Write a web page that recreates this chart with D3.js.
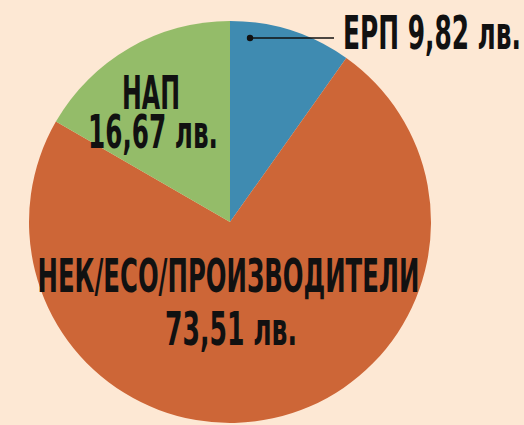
<!DOCTYPE html>
<html>
<head>
<meta charset="utf-8">
<script src="https://cdn.jsdelivr.net/npm/d3@7"></script>
<style>
  html, body { margin: 0; padding: 0; background: #fde8d4; }
  svg { display: block; }
</style>
</head>
<body>
<div id="chart"></div>
<script>
// Data
const categories = ["ЕРП", "НЕК/ЕСО/ПРОИЗВОДИТЕЛИ", "НАП"];
const values = [9.82, 73.51, 16.67];
const valueLabels = ["9,82 лв.", "73,51 лв.", "16,67 лв."];
const colors = ["#3f8bb1", "#cd6637", "#94bc69"];

const width = 524, height = 425;
const cx = 230, cy = 222, radius = 201;

const svg = d3.select("#chart")
  .append("svg")
  .attr("width", width)
  .attr("height", height);

svg.append("rect")
  .attr("width", width)
  .attr("height", height)
  .attr("fill", "#fde8d4");

const g = svg.append("g")
  .attr("transform", `translate(${cx},${cy})`);

const pie = d3.pie().sort(null).value(d => d);
const arcs = pie(values);
const arc = d3.arc().innerRadius(0).outerRadius(radius);

g.selectAll("path.slice")
  .data(arcs)
  .enter()
  .append("path")
  .attr("class", "slice")
  .attr("d", arc)
  .attr("fill", (d, i) => colors[i]);

const font = "'Liberation Sans Narrow', 'DejaVu Sans Condensed', sans-serif";

function label(x, y, text, len) {
  g.append("text")
    .attr("x", x)
    .attr("y", y)
    .attr("text-anchor", "middle")
    .attr("textLength", len)
    .attr("lengthAdjust", "spacingAndGlyphs")
    .style("font-family", font)
    .style("font-weight", "bold")
    .style("font-size", "46px")
    .style("fill", "#111")
    .text(text);
}

// ЕРП: callout line with dot
const dotX = 20, dotY = -184;
g.append("line")
  .attr("x1", dotX).attr("y1", dotY)
  .attr("x2", 104).attr("y2", dotY)
  .attr("stroke", "#111")
  .attr("stroke-width", 1.5);
g.append("circle")
  .attr("cx", dotX).attr("cy", dotY)
  .attr("r", 3.2)
  .attr("fill", "#111");
label(202, -173, categories[0] + " " + valueLabels[0], 178);

// НАП
label(-79, -113, categories[2], 58);
label(-77, -74, valueLabels[2], 130);

// НЕК/ЕСО/ПРОИЗВОДИТЕЛИ
label(-1.5, 70, categories[1], 382);
label(1, 123, valueLabels[1], 132);
</script>
</body>
</html>
